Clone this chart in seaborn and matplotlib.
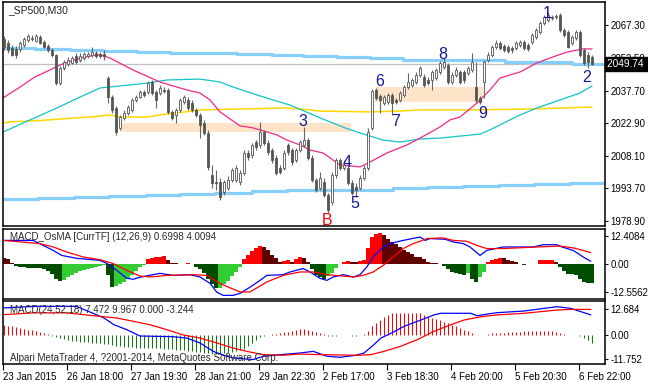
# MT4 style chart: _SP500 M30 with MACD_OsMA and MACD sub windows
import matplotlib
matplotlib.use("Agg")
import matplotlib.pyplot as plt
import matplotlib.transforms as mtransforms
import numpy as np
import seaborn as sns

# Candles, one per M30 bar (bar 0 .. 147)
opens = [2061.0, 2059.2, 2056.9, 2056.5, 2056.5, 2058.3, 2060.5, 2061.0, 2060.1, 2061.9,
         2059.6, 2057.8, 2056.0, 2053.8, 2041.1, 2047.9, 2049.7, 2050.2, 2053.3, 2051.5,
         2052.4, 2053.3, 2053.8, 2054.7, 2054.2, 2054.2, 2043.4, 2034.8, 2029.9, 2020.9,
         2025.4, 2027.6, 2029.0, 2033.5, 2034.8, 2037.1, 2037.1, 2041.6, 2037.1, 2036.6,
         2038.0, 2038.0, 2028.1, 2026.7, 2029.0, 2032.6, 2033.5, 2032.1, 2029.0, 2026.7,
         2023.1, 2018.6, 1999.7, 1996.5, 1996.5, 1992.0, 1993.8, 1997.4, 1997.4, 1996.5,
         2000.6, 2009.6, 2008.7, 2014.5, 2013.2, 2019.0, 2014.1, 2010.9, 2007.3, 2002.8,
         2002.8, 2013.2, 2010.9, 2006.4, 2010.9, 2013.2, 2015.4, 2007.3, 1997.4, 1993.8,
         1996.5, 1990.6, 1987.5, 1999.7, 2006.4, 2002.8, 2002.8, 1996.0, 1994.2, 1993.8,
         1998.3, 2002.8, 2020.9, 2038.0, 2035.3, 2032.1, 2032.6, 2035.7, 2033.5, 2033.5,
         2035.7, 2039.3, 2040.2, 2041.6, 2044.8, 2043.9, 2042.5, 2042.5, 2043.4, 2046.1,
         2048.4, 2049.3, 2041.6, 2044.8, 2046.1, 2046.1, 2045.7, 2047.0, 2039.3, 2034.4,
         2041.6, 2051.5, 2053.8, 2057.4, 2059.2, 2057.8, 2057.4, 2056.9, 2056.9, 2058.3,
         2059.6, 2058.3, 2059.6, 2061.9, 2064.1, 2068.2, 2069.6, 2070.9, 2070.9, 2071.8,
         2065.0, 2064.1, 2059.2, 2061.4, 2064.1, 2056.0, 2053.8, 2052.9]
highs = [2062.3, 2060.5, 2058.3, 2057.8, 2060.1, 2061.9, 2063.2, 2062.8, 2063.2, 2062.8,
         2060.5, 2058.7, 2056.9, 2054.2, 2048.8, 2051.5, 2052.9, 2053.3, 2054.7, 2054.7,
         2055.1, 2055.1, 2057.4, 2055.6, 2055.1, 2056.0, 2044.3, 2035.7, 2030.8, 2026.7,
         2029.0, 2031.2, 2034.4, 2035.7, 2038.0, 2038.0, 2042.0, 2042.5, 2038.0, 2040.2,
         2039.3, 2038.9, 2029.0, 2029.9, 2034.4, 2035.7, 2034.8, 2033.5, 2029.9, 2027.6,
         2024.5, 2019.9, 2004.2, 2001.9, 1998.3, 1997.4, 1999.2, 2002.8, 2004.2, 2001.9,
         2010.9, 2010.9, 2014.1, 2015.4, 2023.6, 2019.9, 2015.4, 2011.8, 2008.7, 2004.2,
         2010.9, 2014.1, 2011.8, 2011.8, 2015.4, 2021.3, 2016.3, 2008.7, 1998.3, 2001.0,
         1998.3, 1991.5, 2001.0, 2007.3, 2007.3, 2006.4, 2004.2, 1997.4, 1996.0, 1999.7,
         2004.2, 2020.9, 2038.4, 2038.9, 2036.2, 2035.7, 2036.6, 2036.6, 2034.4, 2037.5,
         2040.2, 2045.7, 2043.4, 2046.1, 2048.8, 2045.2, 2043.9, 2047.0, 2047.9, 2051.1,
         2052.4, 2050.2, 2046.1, 2048.4, 2047.0, 2047.0, 2048.8, 2054.7, 2050.6, 2035.3,
         2051.5, 2055.1, 2058.3, 2060.5, 2060.1, 2058.7, 2058.3, 2057.8, 2060.1, 2060.5,
         2060.5, 2059.2, 2063.7, 2066.0, 2069.1, 2071.8, 2073.2, 2071.8, 2072.3, 2072.7,
         2066.0, 2065.0, 2062.8, 2065.0, 2065.0, 2056.9, 2055.1, 2053.8]
lows = [2056.0, 2054.7, 2053.3, 2052.4, 2055.1, 2057.4, 2059.6, 2060.1, 2059.6, 2058.7,
        2056.9, 2055.1, 2052.9, 2040.2, 2040.2, 2047.0, 2048.8, 2049.7, 2049.7, 2050.6,
        2051.5, 2052.4, 2052.9, 2052.4, 2052.4, 2051.5, 2032.1, 2027.6, 2017.7, 2019.9,
        2024.5, 2026.7, 2028.1, 2032.6, 2034.4, 2034.8, 2036.2, 2035.7, 2029.9, 2035.7,
        2036.6, 2027.2, 2024.5, 2023.1, 2028.1, 2031.7, 2029.0, 2028.1, 2025.8, 2016.3,
        2017.7, 2001.9, 1993.8, 1992.9, 1988.4, 1990.6, 1992.9, 1996.5, 1996.5, 1995.1,
        1999.7, 2006.4, 2007.3, 2010.9, 2011.8, 2013.2, 2008.7, 2005.1, 1999.7, 2000.1,
        2001.9, 2008.7, 2004.2, 2005.5, 2010.0, 2012.3, 2006.4, 1996.5, 1992.0, 1992.9,
        1989.7, 1982.5, 1986.1, 1998.3, 2001.9, 2001.9, 1995.1, 1990.6, 1989.7, 1992.9,
        1997.4, 2001.9, 2019.9, 2033.5, 2027.6, 2031.2, 2031.7, 2026.7, 2031.7, 2032.6,
        2034.8, 2038.4, 2039.3, 2040.7, 2043.9, 2039.3, 2040.2, 2038.0, 2042.5, 2045.2,
        2047.5, 2040.7, 2040.7, 2043.9, 2040.7, 2041.1, 2044.8, 2046.1, 2032.1, 2031.7,
        2034.4, 2050.6, 2052.9, 2056.5, 2056.0, 2055.1, 2054.7, 2054.7, 2056.0, 2057.4,
        2056.0, 2055.6, 2058.7, 2061.0, 2063.2, 2067.3, 2068.7, 2069.6, 2070.0, 2064.1,
        2061.9, 2056.9, 2058.3, 2060.5, 2052.9, 2049.3, 2047.9, 2049.3]
closes = [2057.4, 2056.0, 2053.8, 2053.8, 2059.2, 2061.0, 2062.3, 2061.4, 2062.3, 2059.2,
          2057.4, 2056.0, 2053.8, 2041.1, 2047.9, 2050.6, 2051.5, 2052.4, 2050.6, 2053.3,
          2054.2, 2054.2, 2055.1, 2053.3, 2053.3, 2053.3, 2034.8, 2029.0, 2019.0, 2025.8,
          2027.6, 2030.3, 2033.5, 2034.8, 2037.1, 2035.7, 2041.1, 2036.6, 2033.5, 2038.9,
          2037.5, 2028.1, 2025.4, 2029.0, 2033.5, 2034.8, 2029.9, 2029.0, 2026.7, 2022.2,
          2018.6, 2003.3, 1996.0, 1996.0, 1989.7, 1996.5, 1997.4, 2001.9, 2002.8, 2000.6,
          2009.6, 2007.8, 2013.2, 2012.3, 2019.0, 2014.1, 2010.0, 2006.4, 2000.6, 2001.0,
          2009.6, 2010.0, 2005.5, 2010.9, 2014.5, 2015.4, 2007.3, 1997.4, 1992.9, 1998.3,
          1990.6, 1983.9, 1999.7, 2006.4, 2002.8, 2004.2, 1996.0, 1991.5, 1992.9, 1998.3,
          2002.8, 2019.0, 2037.5, 2034.4, 2033.5, 2034.8, 2035.7, 2032.1, 2032.6, 2036.6,
          2039.3, 2041.6, 2042.5, 2044.8, 2047.9, 2040.2, 2041.1, 2046.1, 2047.0, 2050.2,
          2050.6, 2041.6, 2044.8, 2047.0, 2041.6, 2042.5, 2047.9, 2050.6, 2033.5, 2032.6,
          2050.6, 2053.8, 2057.4, 2059.2, 2056.9, 2056.0, 2055.6, 2056.0, 2059.2, 2059.6,
          2056.9, 2056.5, 2062.8, 2065.0, 2068.2, 2070.9, 2071.8, 2070.5, 2071.4, 2065.0,
          2062.8, 2057.4, 2061.9, 2064.1, 2053.8, 2050.2, 2050.6, 2049.74]

# Moving averages (bar, price)
pink_bar = [-0.25, 4.0, 7.75, 11.5, 14.0, 19.0, 22.25, 24.0, 26.5, 32.25, 39.0, 42.25, 45.75, 49.0,
            51.5, 54.0, 59.0, 62.25, 64.0, 68.25, 70.75, 74.0, 76.5, 79.75, 84.0, 89.0, 91.5, 95.75,
            100.75, 104.0, 109.0, 111.5, 114.0, 118.25, 121.5, 124.0, 129.0, 133.25, 137.25, 140.75,
            144.75, 147.0]
pink_ma = [2034.4, 2039.3, 2043.9, 2047.0, 2049.3, 2052.4, 2053.5, 2053.8, 2052.4, 2047.0, 2041.6,
           2039.8, 2038.0, 2036.6, 2033.5, 2028.1, 2021.8, 2020.9, 2020.0, 2017.7, 2015.4, 2013.2,
           2010.9, 2009.6, 2004.2, 2003.3, 2005.5, 2009.6, 2013.2, 2016.3, 2021.3, 2024.5, 2025.8,
           2032.1, 2038.0, 2043.4, 2046.1, 2050.2, 2052.9, 2055.1, 2056.5, 2056.5]
cyan_bar = [-0.25, 6.5, 13.25, 19.0, 24.0, 29.0, 35.75, 40.75, 49.0, 54.0, 56.5, 64.0, 71.5, 79.0,
            85.25, 89.0, 94.75, 99.0, 104.0, 109.0, 114.0, 119.0, 121.5, 126.5, 129.0, 133.25,
            139.0, 144.0, 147.0]
cyan_ma = [2019.0, 2024.5, 2029.9, 2034.8, 2038.9, 2039.8, 2041.1, 2042.5, 2042.9, 2041.6, 2039.8,
           2035.3, 2031.2, 2025.4, 2020.9, 2018.6, 2015.4, 2014.5, 2015.9, 2016.3, 2017.2, 2018.1,
           2020.0, 2024.5, 2026.7, 2029.9, 2033.5, 2036.6, 2039.8]
yellow_bar = [-0.25, 1.5, 9.0, 14.0, 21.5, 26.5, 29.0, 35.75, 40.75, 45.25, 49.0, 59.0, 70.25, 74.25,
              79.0, 91.5, 99.0, 104.0, 116.5, 131.5, 147.0]
yellow_ma = [2023.1, 2023.6, 2024.2, 2024.9, 2025.8, 2026.7, 2025.8, 2025.8, 2027.2, 2028.1, 2029.0,
             2029.4, 2029.9, 2029.4, 2028.5, 2028.1, 2028.5, 2029.0, 2029.0, 2029.4, 2030.3]

# Light blue channel, stepped (bar where a level starts, level)
upper_start = [-0.25, 7.75, 16.5, 24.75, 33.25, 41.5, 49.75, 58.25, 67.0, 74.75, 83.25, 91.5, 99.75,
               125.25, 142.0]
upper_level = [2057.1, 2056.5, 2056.0, 2055.6, 2055.3, 2054.8, 2054.6, 2054.2, 2053.8, 2053.3, 2052.7,
               2052.3, 2051.5, 2050.7, 2049.6]
lower_start = [-0.25, 8.5, 17.5, 26.25, 35.5, 44.0, 52.75, 62.0, 70.75, 97.25, 106.0, 114.75, 123.75,
               132.5, 141.5]
lower_level = [1988.8, 1989.4, 1989.9, 1990.3, 1990.8, 1991.2, 1991.5, 1992.4, 1992.9, 1993.8, 1994.4,
               1994.8, 1995.3, 1995.7, 1996.2]

# Supply / demand zones
zone_start = [29.0, 92.75]
zone_end = [86.75, 119.75]
zone_low = [2019.0, 2032.6]
zone_high = [2023.1, 2039.3]

# Wave marks
wave_text = ["1", "2", "3", "4", "5", "6", "7", "8", "9", "B"]
wave_bar = [135.75, 145.75, 74.75, 85.75, 87.75, 94.0, 98.0, 109.75, 119.75, 80.75]
wave_price = [2072.7, 2043.4, 2024.0, 2005.5, 1987.0, 2042.0, 2023.6, 2054.2, 2027.6, 1979.3]

# MACD_OsMA window
osma_hist = [2.5, 2.0, 0.5, -0.8, -1.2, -1.5, -1.7, -1.8, -1.9, -2.0,
             -2.3, -3.0, -4.5, -6.5, -7.5, -7.0, -6.0, -5.0, -4.0, -3.2,
             -2.6, -2.1, -1.7, -1.3, -1.0, -0.7, -5.0, -10.0, -9.8, -9.0,
             -8.0, -6.5, -5.0, -3.0, -1.5, -0.5, 2.0, 2.6, 2.9, 3.1,
             3.3, 1.8, 0.5, 0.3, -0.2, -0.1, 0.3, 0.1, -1.5, -2.5,
             -4.0, -6.5, -9.0, -10.8, -10.5, -9.0, -7.5, -5.5, -3.5, -1.5,
             2.0, 4.0, 5.5, 7.0, 7.8, 7.2, 6.0, 4.0, 2.5, 1.0,
             1.4, 1.5, 1.0, 2.0, 3.0, 2.4, 0.6, -2.5, -5.0, -6.0,
             -6.8, -5.5, -4.0, -1.8, -0.3, 0.9, 1.3, 0.7, 0.6, 1.1,
             1.7, 7.0, 12.0, 13.3, 13.5, 12.5, 11.0, 9.5, 8.5, 7.3,
             6.0, 5.0, 4.3, 3.2, 3.0, 2.0, 1.0, 0.5, 0.2, -0.3,
             -1.0, -2.5, -3.5, -4.0, -4.5, -4.8, -4.0, -6.5, -8.0, -6.0,
             -3.5, 1.0, 1.8, 2.3, 2.7, 2.4, 1.8, 1.2, 0.6, -0.3,
             -0.5, -0.3, -0.2, -0.1, 1.5, 1.6, 1.7, 1.8, 1.0, -1.5,
             -3.0, -4.5, -4.7, -5.0, -6.5, -8.0, -8.3, -8.4]
osma_blue_bar = [-0.25, 7.3, 9.8, 12.3, 14.4, 18.2, 24.0, 25.7, 28.2, 30.7, 32.3, 34.0, 39.0, 42.3,
                 46.5, 49.0, 51.5, 53.2, 54.8, 57.3, 59.0, 61.5, 64.0, 65.7, 69.8, 71.5, 74.8, 76.5,
                 79.0, 80.7, 82.3, 84.8, 87.3, 89.0, 90.7, 92.3, 94.4, 96.5, 99.8, 104.0, 105.3,
                 106.5, 110.3, 112.3, 114.8, 116.5, 119.0, 120.7, 124.8, 132.3, 134.8, 138.2, 139.5,
                 142.3, 144.8, 146.7]
osma_blue = [10.3, 10.3, 8.1, 5.9, 3.7, 2.4, 1.5, 0.2, -2.9, -6.4, -6.8, -5.9, -4.2, -5.1,
             -4.8, -5.8, -8.6, -12.5, -13.9, -13.9, -13.0, -10.3, -7.3, -5.1, -4.8, -3.6, -2.1, -3.6,
             -6.4, -7.3, -5.8, -4.8, -5.8, -4.8, -1.4, 3.0, 6.7, 8.9, 10.3, 11.8, 10.3,
             11.1, 10.8, 9.6, 8.9, 7.4, 3.7, 5.9, 7.4, 7.4, 8.4, 8.4, 7.4,
             5.9, 3.0, 1.1]
osma_red_bar = [-0.25, 9.0, 12.3, 15.7, 19.8, 24.0, 27.3, 30.7, 34.0, 36.5, 40.7, 47.3, 50.7, 54.0,
                59.0, 61.5, 65.7, 69.8, 74.0, 77.3, 80.7, 87.3, 89.8, 92.3, 94.8, 97.3, 99.8, 102.3,
                104.0, 105.7, 109.8, 112.3, 115.7, 118.2, 120.7, 124.8, 133.2, 139.0, 142.3, 144.8,
                146.7]
osma_red = [10.3, 8.9, 7.4, 5.2, 3.0, 1.8, 0.1, -2.9, -5.4, -5.8, -5.1, -4.8, -5.1, -8.7,
            -12.4, -12.4, -8.0, -5.1, -3.6, -3.6, -4.8, -5.8, -5.1, -3.6, -0.7, 3.0, 6.7, 8.9,
            9.9, 11.1, 11.4, 10.3, 9.9, 8.1, 6.7, 6.7, 7.4, 7.8, 7.0, 5.9,
            4.9]

# MACD window
macd_hist = [5.0, 4.6, 4.2, 3.8, 3.4, 3.0, 2.6, 2.2, 1.8, 1.4,
             1.0, 0.6, -0.5, -1.0, -1.5, -2.0, -2.3, -2.7, -3.1, -3.3,
             -3.5, -3.6, -3.7, -3.8, -3.9, -4.2, -4.6, -4.9, -5.2, -5.5,
             -5.7, -5.9, -6.0, -6.2, -6.4, -6.4, -6.4, -6.4, -6.4, -6.5,
             -6.7, -6.8, -6.9, -7.1, -7.2, -7.4, -7.7, -8.0, -8.2, -8.5,
             -8.8, -9.0, -9.2, -9.3, -9.2, -9.0, -8.8, -8.4, -8.0, -7.5,
             -6.8, -5.5, -4.0, -2.5, -1.0, -0.3, 0.2, 0.3, 0.6, 1.0,
             1.3, 1.7, 2.0, 2.4, 2.7, 3.0, 2.2, 1.8, 1.4, 1.0,
             0.4, -0.3, -0.4, -0.3, 0.0, 0.0, 0.0, -0.3, -0.3, 0.0,
             0.3, 1.8, 4.2, 5.8, 7.3, 8.9, 9.8, 10.6, 10.9, 10.9,
             10.9, 10.9, 10.9, 10.9, 10.6, 9.8, 8.9, 8.4, 7.7, 7.3,
             6.2, 5.8, 5.0, 4.2, 3.4, 2.6, 1.8, 1.0, 0.0, 0.0,
             0.0, 0.3, 1.0, 1.0, 1.2, 1.2, 1.4, 1.4, 1.6, 1.6,
             1.8, 1.8, 1.8, 2.0, 2.0, 2.0, 2.0, 1.8, 1.4, 1.0,
             0.6, 0.0, 0.0, 0.0, -0.7, -1.5, -2.3, -3.7]
macd_blue_bar = [-0.25, 8.0, 18.0, 22.0, 25.0, 27.5, 30.7, 34.0, 42.0, 45.7, 49.0, 52.3, 55.7, 57.3,
                 62.3, 64.8, 67.3, 74.0, 77.3, 80.8, 84.0, 88.0, 90.0, 92.5, 94.2, 96.7, 100.0, 104.2,
                 107.5, 109.2, 116.7, 118.3, 120.8, 123.3, 130.0, 135.0, 138.3, 141.7, 144.2, 146.7]
macd_blue = [13.2, 14.0, 14.0, 10.8, 8.3, 5.0, 2.6, -0.5, -0.8, -1.5, -3.9, -8.0, -10.4, -11.2,
             -12.0, -10.4, -9.9, -8.8, -8.0, -10.4, -10.9, -9.9, -8.8, -4.7, -1.5, 0.8, 4.2, 7.3,
             9.8, 10.6, 10.6, 9.4, 10.2, 10.9, 11.7, 13.0, 13.8, 13.0, 11.4, 9.8]
macd_red_bar = [-0.25, 7.3, 15.7, 20.0, 24.0, 28.2, 32.3, 36.5, 40.7, 44.8, 49.0, 53.2, 57.3, 60.7,
                64.8, 69.8, 74.0, 79.0, 88.3, 91.7, 95.0, 99.2, 103.3, 107.5, 111.7, 115.0, 119.2,
                123.3, 130.0, 134.2, 138.3, 141.7, 146.7]
macd_red = [9.9, 10.8, 10.8, 9.9, 9.1, 8.3, 6.7, 5.0, 2.6, 0.0, -1.5, -3.9, -6.4, -8.0,
            -9.6, -9.9, -9.3, -9.6, -9.9, -9.6, -8.0, -5.5, -2.3, 1.8, 5.0, 7.3, 8.9,
            9.8, 10.6, 11.4, 12.2, 12.5, 12.5]

# Axis labels
price_ticks = [2067.30, 2052.50, 2037.70, 2022.90, 2008.10, 1993.70, 1978.90]
osma_ticks = [12.4084, 0.0, -12.5562]
osma_tick_labels = ["12.4084", "0.00", "-12.5562"]
macd_ticks = [12.684, 0.0, -11.752]
macd_tick_labels = ["12.684", "0.00", "-11.752"]
time_labels = ["23 Jan 2015", "26 Jan 18:00", "27 Jan 19:30", "28 Jan 21:00", "29 Jan 22:30",
               "2 Feb 17:00", "3 Feb 18:30", "4 Feb 20:00", "5 Feb 20:30", "6 Feb 22:00"]

sns.set_style("white")
plt.rcParams["font.family"] = ["Liberation Sans", "DejaVu Sans"]

W, H = 648, 383
fig = plt.figure(figsize=(W / 100, H / 100), dpi=100)


def px_axes(x0, y0, x1, y1):
    return fig.add_axes([x0 / W, 1 - y1 / H, (x1 - x0) / W, (y1 - y0) / H])


ax = px_axes(3, 2, 605, 226)
ax_osma = px_axes(3, 228.5, 605, 299)
ax_macd = px_axes(3, 301, 605, 364)

bars = np.arange(len(closes))
o = np.array(opens)
c = np.array(closes)
x_right = 150.25

# --- main window ---
for s, e, lo, hi in zip(zone_start, zone_end, zone_low, zone_high):
    ax.fill_between([s, e], lo, hi, color="#fde3c8", lw=0, zorder=1)

ax.axhline(closes[-1], color="#c0c0c0", lw=0.9, zorder=1.5)

sns.lineplot(x=upper_start + [x_right], y=upper_level + [upper_level[-1]], ax=ax,
             drawstyle="steps-post", color="#87cefa", linewidth=2.3, zorder=2)
sns.lineplot(x=lower_start + [x_right], y=lower_level + [lower_level[-1]], ax=ax,
             drawstyle="steps-post", color="#87cefa", linewidth=2.3, zorder=2)
sns.lineplot(x=yellow_bar, y=yellow_ma, ax=ax, color="#ffd700", linewidth=1.1, zorder=2)
sns.lineplot(x=cyan_bar, y=cyan_ma, ax=ax, color="#12c3c8", linewidth=0.9, zorder=2)
sns.lineplot(x=pink_bar, y=pink_ma, ax=ax, color="#f0288c", linewidth=0.9, zorder=2)

up = c >= o
ax.vlines(bars, lows, highs, color="#666666", lw=0.8, zorder=3)
ax.bar(bars, np.maximum(np.abs(c - o), 0.25), bottom=np.minimum(o, c), width=0.64,
       color=np.where(up, "white", "#525c49"), edgecolor="#555555", linewidth=0.6, zorder=4)

for t, b, p in zip(wave_text, wave_bar, wave_price):
    ax.text(b, p, t, ha="center", va="center", fontsize=11.5,
            color="#ff0000" if t == "B" else "#16169a", zorder=6)

ax.set_ylim(1976.65, 2077.67)
ax.set_yticks(price_ticks)
ax.set_yticklabels([f"{v:.2f}" for v in price_ticks])

# current price box, drawn over the 2052.50 label as in MT4
trans = mtransforms.blended_transform_factory(ax.transAxes, ax.transData)
ax.text(1.004, closes[-1], f"{closes[-1]:.2f} ", transform=trans, ha="left", va="center",
        fontsize=7.3, color="white", clip_on=False, zorder=10,
        bbox=dict(boxstyle="square,pad=0.2", fc="black", ec="black"))

fig.text(8 / W, 1 - 10.5 / H, "_SP500,M30", fontsize=7.5, va="center", color="#222222")

# --- MACD_OsMA window ---
osma_colors = []
for k, v in enumerate(osma_hist):
    prev = osma_hist[k - 1] if k > 0 else v + 1
    if v >= 0:
        osma_colors.append("#ff0000" if v > prev else "#600000")
    else:
        osma_colors.append("#33cc33" if v > prev else "#004d00")
ax_osma.bar(bars, osma_hist, width=0.78, color=osma_colors, linewidth=0, zorder=2)
sns.lineplot(x=osma_blue_bar, y=osma_blue, ax=ax_osma, color="#0000ff", linewidth=0.9, zorder=3)
sns.lineplot(x=osma_red_bar, y=osma_red, ax=ax_osma, color="#ff0000", linewidth=0.9, zorder=3)
ax_osma.set_ylim(-15.5, 15.54)
ax_osma.set_yticks(osma_ticks)
ax_osma.set_yticklabels(osma_tick_labels)
ax_osma.text(7 / 602, 1 - 8.5 / 70.5, "MACD_OsMA [CurrTF] (12,26,9) 0.6998 4.0094",
             transform=ax_osma.transAxes, fontsize=7, va="center", color="#2a2a2a", zorder=5)

# --- MACD window ---
macd_arr = np.array(macd_hist)
ax_macd.vlines(bars, 0, macd_arr, colors=np.where(macd_arr >= 0, "#ff0000", "#127a12"),
               lw=0.75, zorder=2)
sns.lineplot(x=macd_blue_bar, y=macd_blue, ax=ax_macd, color="#0000ff", linewidth=0.9, zorder=3)
sns.lineplot(x=macd_red_bar, y=macd_red, ax=ax_macd, color="#ff0000", linewidth=0.9, zorder=3)
ax_macd.set_ylim(-14.17, 16.6)
ax_macd.set_yticks(macd_ticks)
ax_macd.set_yticklabels(macd_tick_labels)
ax_macd.text(7 / 602, 1 - 9 / 63, "MACD(24,52,18) 7.472 9.967 0.000 -3.244",
             transform=ax_macd.transAxes, fontsize=7, va="center", color="#2a2a2a", zorder=5)
ax_macd.text(7 / 602, 1 - 57 / 63, "Alpari MetaTrader 4, ?2001-2014, MetaQuotes Software Corp.",
             transform=ax_macd.transAxes, fontsize=7, va="center", color="#2a2a2a", zorder=5)

tick_bars = [16 * k - 0.25 for k in range(len(time_labels))]
ax_macd.set_xticks(tick_bars)
ax_macd.set_xticklabels(time_labels, ha="left")

for a in (ax, ax_osma, ax_macd):
    a.set_xlim(-0.25, x_right)
    a.set_xlabel("")
    a.set_ylabel("")
    a.set_facecolor("white")
    for sp in a.spines.values():
        sp.set_visible(True)
        sp.set_color("black")
        sp.set_linewidth(1.1)
    a.yaxis.tick_right()
    a.tick_params(axis="y", right=True, left=False, labelright=True, labelleft=False,
                  length=2.5, width=0.8, pad=1.2, labelsize=6.9, colors="black")
    if a is not ax_macd:
        a.tick_params(axis="x", bottom=False, labelbottom=False)
ax_macd.tick_params(axis="x", bottom=True, labelbottom=True, length=4, width=0.8, pad=1.5,
                    labelsize=7, colors="black")

fig.savefig("out.png", dpi=100, facecolor="white")
